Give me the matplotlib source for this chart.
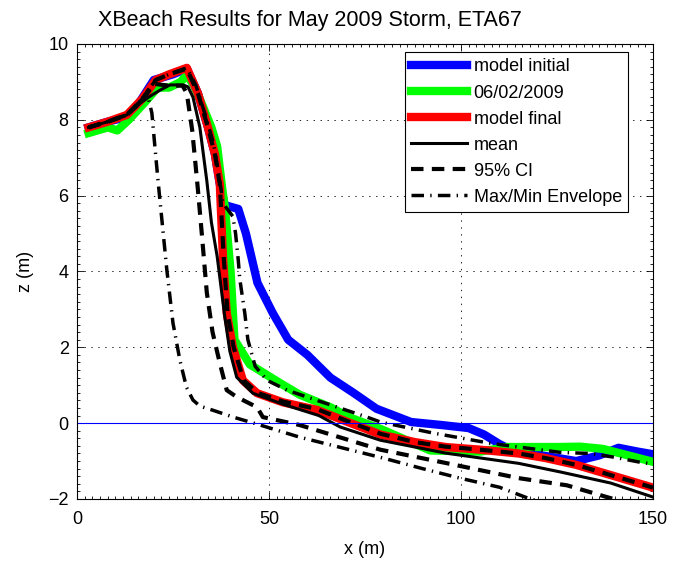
import matplotlib
matplotlib.use("Agg")
import matplotlib.pyplot as plt
from matplotlib.ticker import MultipleLocator

plt.rcParams['font.family'] = ['Liberation Sans', 'DejaVu Sans']
plt.rcParams['lines.scale_dashes'] = False

# perfiles (x en m, z en m)
x_init = [3, 8, 14, 20, 25, 28.6, 31.5, 34.1, 35.9, 37.2, 38.5, 42, 44, 47, 51, 55, 60, 66, 72,
          78, 87, 95, 102, 106, 110, 113, 118, 124, 130, 136, 141, 146, 150]
z_init = [7.8, 7.95, 8.1, 9.05, 9.2, 9.35, 8.7, 7.8, 7.1, 6.3, 5.75, 5.65, 5.0, 3.7, 2.9, 2.2,
          1.8, 1.2, 0.8, 0.38, 0.03, -0.05, -0.13, -0.3, -0.55, -0.7, -0.8, -0.9, -1.0, -0.85,
          -0.65, -0.75, -0.82]

x_meas = [3, 8, 10.5, 13.5, 18, 21, 24, 27, 28.6, 30.5, 32.8, 35, 36.5, 37.8, 38.5, 40, 41, 45,
          53, 58, 66, 71, 79, 92, 105, 112, 125, 131, 137, 150]
z_meas = [7.65, 7.8, 7.72, 8.0, 8.5, 8.85, 8.85, 9.0, 9.18, 8.9, 8.35, 7.8, 7.3, 6.2, 5.7, 4.0,
          2.2, 1.55, 1.05, 0.75, 0.42, 0.15, -0.15, -0.72, -0.75, -0.63, -0.63, -0.62, -0.68,
          -1.02]

x_final = [3, 8, 13, 17, 20.5, 24, 28.6, 31.5, 34.1, 35.9, 37.2, 38, 39, 40.6, 43.2, 46.9, 53.6,
           62.5, 70, 79, 88, 96, 105, 115, 122, 130, 139, 150]
z_final = [7.8, 7.95, 8.13, 8.55, 9.05, 9.2, 9.37, 8.7, 7.8, 7.1, 6.3, 4.4, 2.9, 2.0, 1.13, 0.79,
           0.55, 0.35, 0.05, -0.3, -0.5, -0.63, -0.7, -0.8, -0.92, -1.1, -1.37, -1.7]

x_mean = [3, 8, 13, 16.4, 19, 21.6, 24.2, 27.6, 28.9, 30.2, 32, 33.8, 35, 36.5, 38.5, 39.8, 41.6,
          45.8, 53.6, 63, 68.5, 79, 96, 115, 126, 139, 150]
z_mean = [7.8, 7.95, 8.13, 8.44, 8.62, 8.78, 8.92, 8.92, 8.87, 8.6, 7.8, 6.4, 5.3, 4.4, 2.8, 1.9,
          1.21, 0.79, 0.5, 0.2, -0.1, -0.45, -0.79, -1.06, -1.29, -1.58, -1.95]

x_ci_up = [3, 8, 13, 17, 20.5, 24, 28.6, 31.5, 34.1, 35.9, 37.2, 38.2, 39.2, 40.8, 43.4, 47,
           53.6, 62.5, 70, 79, 88, 96, 105, 115, 122, 130, 139, 150]
z_ci_up = [7.8, 7.95, 8.13, 8.55, 9.05, 9.2, 9.35, 8.7, 7.8, 7.1, 6.3, 4.4, 2.9, 2.0, 1.13, 0.8,
           0.57, 0.37, 0.07, -0.28, -0.5, -0.62, -0.7, -0.8, -0.92, -1.1, -1.37, -1.7]

x_ci_lo = [3, 8, 13, 17, 20, 24, 27.5, 28.6, 30, 30.7, 31.5, 32.5, 33.8, 35.3, 37.2, 39, 41.6,
           46.9, 48.4, 58, 79, 96, 115, 127.6, 138, 150]
z_ci_lo = [7.8, 7.95, 8.13, 8.5, 8.95, 8.9, 8.9, 8.7, 7.73, 7.0, 6.15, 5.0, 3.45, 2.4, 1.58, 0.87,
           0.69, 0.42, 0.16, -0.05, -0.7, -1.05, -1.45, -1.64, -1.95, -2.3]

x_env_max = [3, 8, 13, 17, 20.5, 24, 28.6, 31, 33.5, 35.5, 37.2, 38, 40.6, 41.3, 42, 42.4, 43.7,
             44.5, 46.4, 49.5, 54.7, 62.5, 75.5, 79, 92.7, 107.6, 115, 125.8, 133.6, 140,
             146.6, 150]
z_env_max = [7.8, 7.95, 8.13, 8.55, 9.05, 9.2, 9.37, 8.9, 8.1, 7.4, 6.4, 5.8, 5.45, 5.0, 4.3,
             3.8, 2.9, 2.2, 1.5, 1.13, 0.87, 0.6, 0.16, 0.03, -0.26, -0.53, -0.63, -0.77, -0.8,
             -0.9, -1.03, -1.08]

x_env_min = [3, 8, 13, 17, 18.5, 19.5, 20.3, 21.1, 23.4, 25, 26.8, 28.5, 30.2, 32, 35.4, 41,
             47.7, 58, 69, 79.7, 90, 99.7, 110, 118, 150]
z_env_min = [7.8, 7.95, 8.13, 8.5, 8.6, 8.18, 7.28, 6.4, 4.04, 2.64, 1.66, 0.95, 0.61, 0.45,
             0.34, 0.15, -0.05, -0.37, -0.65, -0.92, -1.2, -1.45, -1.69, -2.0, -2.8]

fig = plt.figure(figsize=(6.8, 5.66), dpi=100)
ax = fig.add_axes([0.1132, 0.1184, 0.8471, 0.8039])

ax.plot(x_init, z_init, color=(0, 0, 1), lw=6, label='model initial', solid_joinstyle='round')
ax.plot(x_meas, z_meas, color=(0, 1, 0), lw=6, label='06/02/2009', solid_joinstyle='round')
ax.plot(x_final, z_final, color=(1, 0, 0), lw=6, label='model final', solid_joinstyle='round')
ax.plot(x_mean, z_mean, color='k', lw=2.2, label='mean')
ax.plot(x_ci_up, z_ci_up, color='k', lw=3, dashes=(9, 6), label='95% CI')
ax.plot(x_ci_lo, z_ci_lo, color='k', lw=3, dashes=(9, 6))
ax.plot(x_env_max, z_env_max, color='k', lw=2.5, dashes=(9, 4.5, 1, 4.5),
        label='Max/Min Envelope')
ax.plot(x_env_min, z_env_min, color='k', lw=2.5, dashes=(9, 4.5, 1, 4.5))
ax.axhline(0, color=(0, 0, 1), lw=0.8)

ax.set_xlim(0, 150)
ax.set_ylim(-2, 10)
ax.xaxis.set_major_locator(MultipleLocator(50))
ax.yaxis.set_major_locator(MultipleLocator(2))
ax.xaxis.set_minor_locator(MultipleLocator(2))
ax.yaxis.set_minor_locator(MultipleLocator(0.2))
ax.tick_params(which='both', direction='in', top=True, right=True, labelsize=13, width=0.6)
ax.tick_params(which='major', length=5)
ax.tick_params(which='minor', length=2.5)
ax.tick_params(axis='x', pad=9)
ax.tick_params(axis='y', pad=6)
ax.grid(True, which='major', color='k', linestyle=(0, (1, 4)), lw=0.6)
for s in ax.spines.values():
    s.set_linewidth(0.8)

ax.set_xlabel('x (m)', fontsize=13, labelpad=9)
ax.set_ylabel('z (m)', fontsize=13, labelpad=10)
ax.set_title('XBeach Results for May 2009 Storm, ETA67', fontsize=15.5, pad=13, x=0.405)

leg = ax.legend(loc='upper right', bbox_to_anchor=(0.957, 0.982), fontsize=13, fancybox=False,
                edgecolor='k', framealpha=1, handlelength=3.1, handletextpad=0.35,
                labelspacing=0.5, borderpad=0.35, borderaxespad=0)
leg.get_frame().set_linewidth(0.8)

fig.savefig('out.png', dpi=100)
